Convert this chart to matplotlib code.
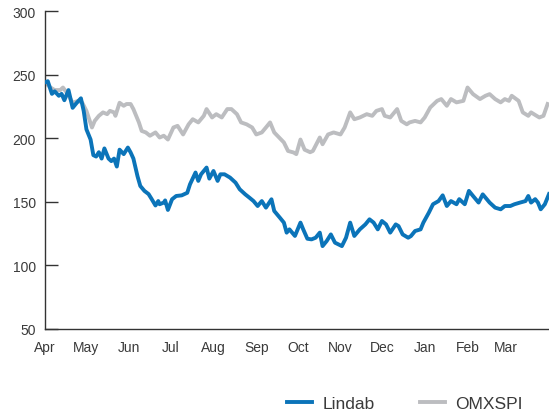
import matplotlib
matplotlib.use("Agg")
import matplotlib.pyplot as plt

plt.rcParams['font.family'] = ['Liberation Sans', 'DejaVu Sans']

# days since 1 April
lindab_day = [0, 2, 5, 7, 10, 12, 14, 17, 20, 23, 26, 28, 30, 33, 35, 37, 39, 41,
              43, 46, 48, 50, 52, 54, 57, 60, 62, 64, 67, 69, 72, 75, 77, 80, 82,
              83, 86, 87, 89, 92, 95, 99, 103, 105, 109, 111, 113, 117, 119, 122,
              125, 127, 130, 134, 138, 141, 145, 148, 151, 154, 157, 160, 164, 166,
              170, 173, 175, 177, 181, 185, 187, 190, 193, 196, 199, 201, 204, 207,
              210, 215, 218, 221, 224, 228, 232, 235, 238, 241, 244, 247, 250, 254,
              256, 259, 263, 265, 268, 272, 274, 278, 281, 285, 288, 291, 294, 298,
              300, 304, 307, 310, 314, 317, 322, 326, 330, 333, 337, 340, 344, 348,
              350, 352, 355, 357, 359, 362, 365]
lindab_val = [244, 245, 235, 237, 233.5, 235, 230, 238, 224, 228, 231.5, 221.6, 207,
              199, 186.7, 185.6, 189, 184, 192, 184, 182, 184, 177.7, 191, 187.5,
              192.7, 188.8, 184, 170, 162.4, 158.5, 156, 152.5, 147, 150.5, 148,
              149.3, 151, 143.5, 151.9, 154.5, 155, 157, 163.7, 173, 166.4, 171.6,
              176.9, 168.2, 174.2, 166.4, 171.6, 171.6, 169, 165, 159.8, 155.8,
              153.2, 150.5, 146.6, 150.5, 145.3, 151.9, 142.7, 137.5, 133.5, 125.6,
              128.2, 123, 133.5, 128.2, 120.8, 120.3, 121.6, 125.6, 115, 119, 124.2,
              117.7, 115, 121.6, 133.5, 123, 128.2, 132.1, 136.1, 133.5, 128.2,
              134.8, 132.1, 125.6, 132.1, 130.8, 124.2, 121.6, 122.9, 126.9, 128.2,
              133.5, 141.4, 148, 150.5, 155, 146.6, 150.5, 148, 152, 148, 158.5,
              154.5, 149.3, 155.8, 149.3, 145.3, 144, 146.6, 146.6, 148, 149.3,
              150.5, 154.5, 149.3, 152, 149.3, 144, 148, 156]

omx_day = [0, 4, 7, 11, 13, 16, 20, 24, 27, 30, 34, 36, 39, 42, 45, 47, 50, 51, 54,
           57, 59, 62, 64, 68, 70, 73, 76, 80, 83, 86, 89, 93, 96, 100, 104, 107,
           111, 115, 117, 121, 124, 128, 132, 135, 139, 142, 146, 150, 153, 157, 160,
           163, 166, 173, 176, 180, 182, 185, 188, 192, 194, 199, 201, 205, 209, 214,
           217, 221, 224, 228, 233, 237, 240, 244, 246, 250, 255, 258, 262, 264, 268,
           272, 275, 279, 284, 287, 291, 294, 298, 303, 306, 310, 315, 319, 322, 326,
           330, 333, 336, 338, 343, 346, 350, 352, 356, 358, 361, 364]
omx_val = [244, 240, 238, 238, 240, 235.6, 228, 229.5, 228, 221.6, 208.5, 213.7,
           217.7, 220.4, 219, 221.6, 220.4, 217.7, 228, 225.6, 227, 227, 223, 212.5,
           205.8, 204.6, 202, 204.6, 200.6, 202, 199, 208.5, 209.8, 203, 211, 215,
           212.5, 217.7, 223, 216.4, 219, 216.4, 223, 223, 219, 212.5, 211, 208.5,
           203, 204.6, 208.5, 212.5, 204.6, 196.7, 190, 188.8, 187.5, 199, 191, 189,
           190, 200.6, 195.3, 203, 204.6, 203, 208.5, 220.4, 215, 216.4, 219, 217.7,
           221.6, 223, 217.7, 216.4, 223, 213.7, 211, 212.5, 213.7, 212.5, 216.4,
           224.3, 229.5, 230.9, 225.6, 230.9, 228.3, 229.5, 240, 234.8, 230.9,
           233.5, 234.8, 230.9, 228.3, 230.9, 229.5, 233.5, 229.5, 220.4, 217.7,
           220.4, 217.7, 216.4, 217.7, 227]

month_start = [0, 30, 61, 91, 122, 153, 183, 214, 244, 275, 306, 334]
month_labels = ['Apr', 'May', 'Jun', 'Jul', 'Aug', 'Sep', 'Oct', 'Nov', 'Dec',
                'Jan', 'Feb', 'Mar']
y_ticks = [50, 100, 150, 200, 250, 300]

blue = '#0b74b9'
grey = '#bcbdc0'
text_col = '#3a3a3a'

fig = plt.figure(figsize=(5.49, 4.14), dpi=100)
ax = fig.add_axes([0.082, 0.204, 0.918, 0.766])

ax.plot(omx_day, omx_val, color=grey, lw=2.8, label='OMXSPI', zorder=2,
        solid_joinstyle='round')
ax.plot(lindab_day, lindab_val, color=blue, lw=2.8, label='Lindab', zorder=3,
        solid_joinstyle='round')

ax.set_xlim(0, 365)
ax.set_ylim(50, 300)
ax.set_yticks(y_ticks)
ax.set_xticks(month_start)
ax.set_xticklabels(month_labels)

for s in ['top', 'right']:
    ax.spines[s].set_visible(False)
for s in ['left', 'bottom']:
    ax.spines[s].set_color('#333333')
    ax.spines[s].set_linewidth(1.0)

ax.tick_params(axis='y', direction='in', length=9, width=1.0, color='#333333',
               pad=6.5, labelsize=10, labelcolor=text_col)
ax.tick_params(axis='x', length=0, pad=8, labelsize=10, labelcolor=text_col)

h, l = ax.get_legend_handles_labels()
fig.legend([h[1], h[0]], [l[1], l[0]], loc='center', ncol=2,
           bbox_to_anchor=(0.737, 0.022), frameon=False, fontsize=12.5,
           handlelength=1.45, handletextpad=0.6, columnspacing=2.6,
           borderpad=0, labelcolor=text_col)

fig.savefig('out.png', dpi=100)
